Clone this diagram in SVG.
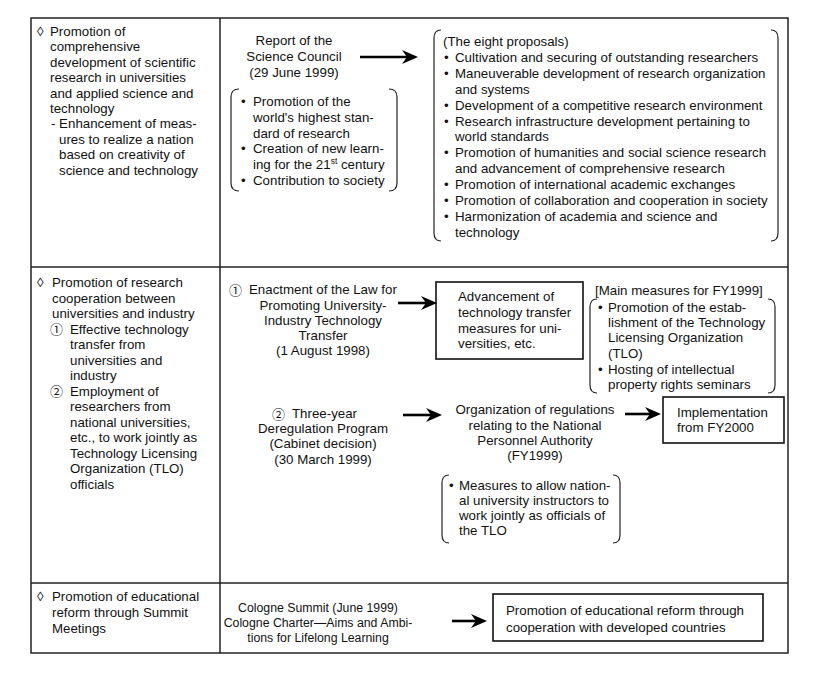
<svg xmlns="http://www.w3.org/2000/svg" width="838" height="697" viewBox="0 0 838 697">
<style>
  text { font-family: "Liberation Sans", Arial, "DejaVu Sans", "Noto Sans CJK JP", sans-serif; font-size: 13.3px; fill: #111; }
  .c { text-anchor: middle; }
  .sm { font-size: 12.3px; }
  .num { font-family: "Noto Sans CJK JP", "DejaVu Sans", sans-serif; font-size: 13px; }
  .grid { fill: none; stroke: #222; stroke-width: 1.5; }
  .box { fill: none; stroke: #111; stroke-width: 1.6; }
  .brk { fill: none; stroke: #222; stroke-width: 1.2; }
  .arr { fill: none; stroke: #000; stroke-width: 2.6; marker-end: url(#ah); }
</style>
<defs>
  <marker id="ah" viewBox="0 0 16 14" refX="9" refY="7" markerWidth="16" markerHeight="14" markerUnits="userSpaceOnUse" orient="auto">
    <path d="M0,0 L16,7 L0,14 L5,7 z" fill="#000"/>
  </marker>
</defs>
<rect width="838" height="697" fill="#fff"/>

<g id="table">
  <rect class="grid" x="31" y="18" width="757" height="635"/>
  <line class="grid" x1="220" y1="18" x2="220" y2="653"/>
  <line class="grid" x1="31" y1="267" x2="788" y2="267"/>
  <line class="grid" x1="31" y1="583" x2="788" y2="583"/>
</g>

<g id="row1-left">
  <text x="37" y="36">◊</text>
  <text x="50" y="36">Promotion of</text>
  <text x="50" y="51.4">comprehensive</text>
  <text x="50" y="66.8">development of scientific</text>
  <text x="50" y="82.2">research in universities</text>
  <text x="50" y="97.6">and applied science and</text>
  <text x="50" y="113">technology</text>
  <text x="51" y="128.4">- Enhancement of meas-</text>
  <text x="59" y="143.8">ures to realize a nation</text>
  <text x="59" y="159.2">based on creativity of</text>
  <text x="59" y="174.6">science and technology</text>
</g>

<g id="science-council">
  <text class="c" x="294" y="45">Report of the</text>
  <text class="c" x="294" y="61">Science Council</text>
  <text class="c" x="294" y="77">(29 June 1999)</text>
</g>

<g id="council-aims">
  <path class="brk" d="M239,89 C234,89 231,92 231,97 L231,183 C231,188 234,191 239,191"/>
  <path class="brk" d="M389,89 C394,89 397,92 397,97 L397,183 C397,188 394,191 389,191"/>
  <text x="241" y="106">•</text><text x="253" y="106">Promotion of the</text>
  <text x="253" y="121.8">world's highest stan-</text>
  <text x="253" y="137.6">dard of research</text>
  <text x="241" y="153.4">•</text><text x="253" y="153.4">Creation of new learn-</text>
  <text x="253" y="169.2">ing for the 21<tspan font-size="8.5" dy="-5">st</tspan><tspan dy="5"> century</tspan></text>
  <text x="241" y="185">•</text><text x="253" y="185">Contribution to society</text>
</g>

<g id="eight-proposals">
  <path class="brk" d="M441,30 C436,30 434,33 434,38 L434,233 C434,238 436,241 441,241"/>
  <path class="brk" d="M771,30 C776,30 778,33 778,38 L778,233 C778,238 776,241 771,241"/>
  <text x="443" y="46">(The eight proposals)</text>
  <text x="444" y="61.9">•</text><text x="455" y="61.9">Cultivation and securing of outstanding researchers</text>
  <text x="444" y="77.8">•</text><text x="455" y="77.8">Maneuverable development of research organization</text>
  <text x="455" y="93.7">and systems</text>
  <text x="444" y="109.6">•</text><text x="455" y="109.6">Development of a competitive research environment</text>
  <text x="444" y="125.5">•</text><text x="455" y="125.5">Research infrastructure development pertaining to</text>
  <text x="455" y="141.4">world standards</text>
  <text x="444" y="157.3">•</text><text x="455" y="157.3">Promotion of humanities and social science research</text>
  <text x="455" y="173.2">and advancement of comprehensive research</text>
  <text x="444" y="189.1">•</text><text x="455" y="189.1">Promotion of international academic exchanges</text>
  <text x="444" y="205">•</text><text x="455" y="205">Promotion of collaboration and cooperation in society</text>
  <text x="444" y="220.9">•</text><text x="455" y="220.9">Harmonization of academia and science and</text>
  <text x="455" y="236.8">technology</text>
</g>

<g id="row2-left">
  <text x="37" y="287">◊</text>
  <text x="52" y="287">Promotion of research</text>
  <text x="52" y="302.5">cooperation between</text>
  <text x="52" y="318">universities and industry</text>
  <text class="num" x="50" y="334">①</text><text x="70" y="333.5">Effective technology</text>
  <text x="70" y="349">transfer from</text>
  <text x="70" y="364.5">universities and</text>
  <text x="70" y="380">industry</text>
  <text class="num" x="50" y="396">②</text><text x="70" y="395.5">Employment of</text>
  <text x="70" y="411">researchers from</text>
  <text x="70" y="426.5">national universities,</text>
  <text x="70" y="442">etc., to work jointly as</text>
  <text x="70" y="457.5">Technology Licensing</text>
  <text x="70" y="473">Organization (TLO)</text>
  <text x="70" y="488.5">officials</text>
</g>

<g id="law-enactment">
  <text class="num" x="229" y="294.5">①</text><text x="249" y="294">Enactment of the Law for</text>
  <text class="c" x="323" y="309.5">Promoting University-</text>
  <text class="c" x="323" y="324.5">Industry Technology</text>
  <text class="c" x="323" y="339.5">Transfer</text>
  <text class="c" x="323" y="355">(1 August 1998)</text>
</g>

<g id="tech-transfer-box">
  <rect class="box" x="436" y="282" width="147" height="77"/>
  <text x="458" y="301">Advancement of</text>
  <text x="458" y="317">technology transfer</text>
  <text x="458" y="332.5">measures for uni-</text>
  <text x="458" y="348">versities, etc.</text>
</g>

<g id="main-measures">
  <text x="595" y="295">[Main measures for FY1999]</text>
  <path class="brk" d="M597,299 C592,299 590,302 590,307 L590,385 C590,390 592,393 597,393"/>
  <path class="brk" d="M768,299 C773,299 775,302 775,307 L775,385 C775,390 773,393 768,393"/>
  <text x="598" y="311.8">•</text><text x="608" y="311.8">Promotion of the estab-</text>
  <text x="608" y="327.2">lishment of the Technology</text>
  <text x="608" y="342.2">Licensing Organization</text>
  <text x="608" y="357.8">(TLO)</text>
  <text x="598" y="373.8">•</text><text x="608" y="373.8">Hosting of intellectual</text>
  <text x="608" y="388.8">property rights seminars</text>
</g>

<g id="deregulation">
  <text class="num" x="272" y="418.5">②</text><text x="292" y="418">Three-year</text>
  <text class="c" x="323" y="433">Deregulation Program</text>
  <text class="c" x="323" y="448">(Cabinet decision)</text>
  <text class="c" x="323" y="463.5">(30 March 1999)</text>
</g>

<g id="npa-regulations">
  <text class="c" x="535" y="414">Organization of regulations</text>
  <text class="c" x="535" y="429.5">relating to the National</text>
  <text class="c" x="535" y="444.5">Personnel Authority</text>
  <text class="c" x="535" y="459.5">(FY1999)</text>
</g>

<g id="implementation-box">
  <rect class="box" x="663" y="397" width="121" height="46"/>
  <text x="677" y="417">Implementation</text>
  <text x="677" y="432">from FY2000</text>
</g>

<g id="tlo-measures">
  <path class="brk" d="M449,475 C444,475 442,478 442,483 L442,535 C442,540 444,543 449,543"/>
  <path class="brk" d="M613,475 C618,475 620,478 620,483 L620,535 C620,540 618,543 613,543"/>
  <text x="449" y="489.5">•</text><text x="459" y="489.5">Measures to allow nation-</text>
  <text x="459" y="504.5">al university instructors to</text>
  <text x="459" y="519.5">work jointly as officials of</text>
  <text x="459" y="534.5">the TLO</text>
</g>

<g id="row3-left">
  <text x="37" y="601">◊</text>
  <text x="52" y="601">Promotion of educational</text>
  <text x="52" y="617">reform through Summit</text>
  <text x="52" y="633">Meetings</text>
</g>

<g id="cologne">
  <text class="c sm" x="318" y="611.5">Cologne Summit (June 1999)</text>
  <text class="c sm" x="318" y="626.5">Cologne Charter—Aims and Ambi-</text>
  <text class="c sm" x="318" y="641.5">tions for Lifelong Learning</text>
</g>

<g id="educational-box">
  <rect class="box" x="493" y="594" width="270" height="47"/>
  <text x="506" y="614.5">Promotion of educational reform through</text>
  <text x="506" y="631.5">cooperation with developed countries</text>
</g>

<g id="connectors">
  <path class="arr" d="M360,57 L411,57"/>
  <path class="arr" d="M398,303 L430,303"/>
  <path class="arr" d="M403,415 L435,415"/>
  <path class="arr" d="M625,414 L654,414"/>
  <path class="arr" d="M452,621 L480,621"/>
</g>
</svg>
